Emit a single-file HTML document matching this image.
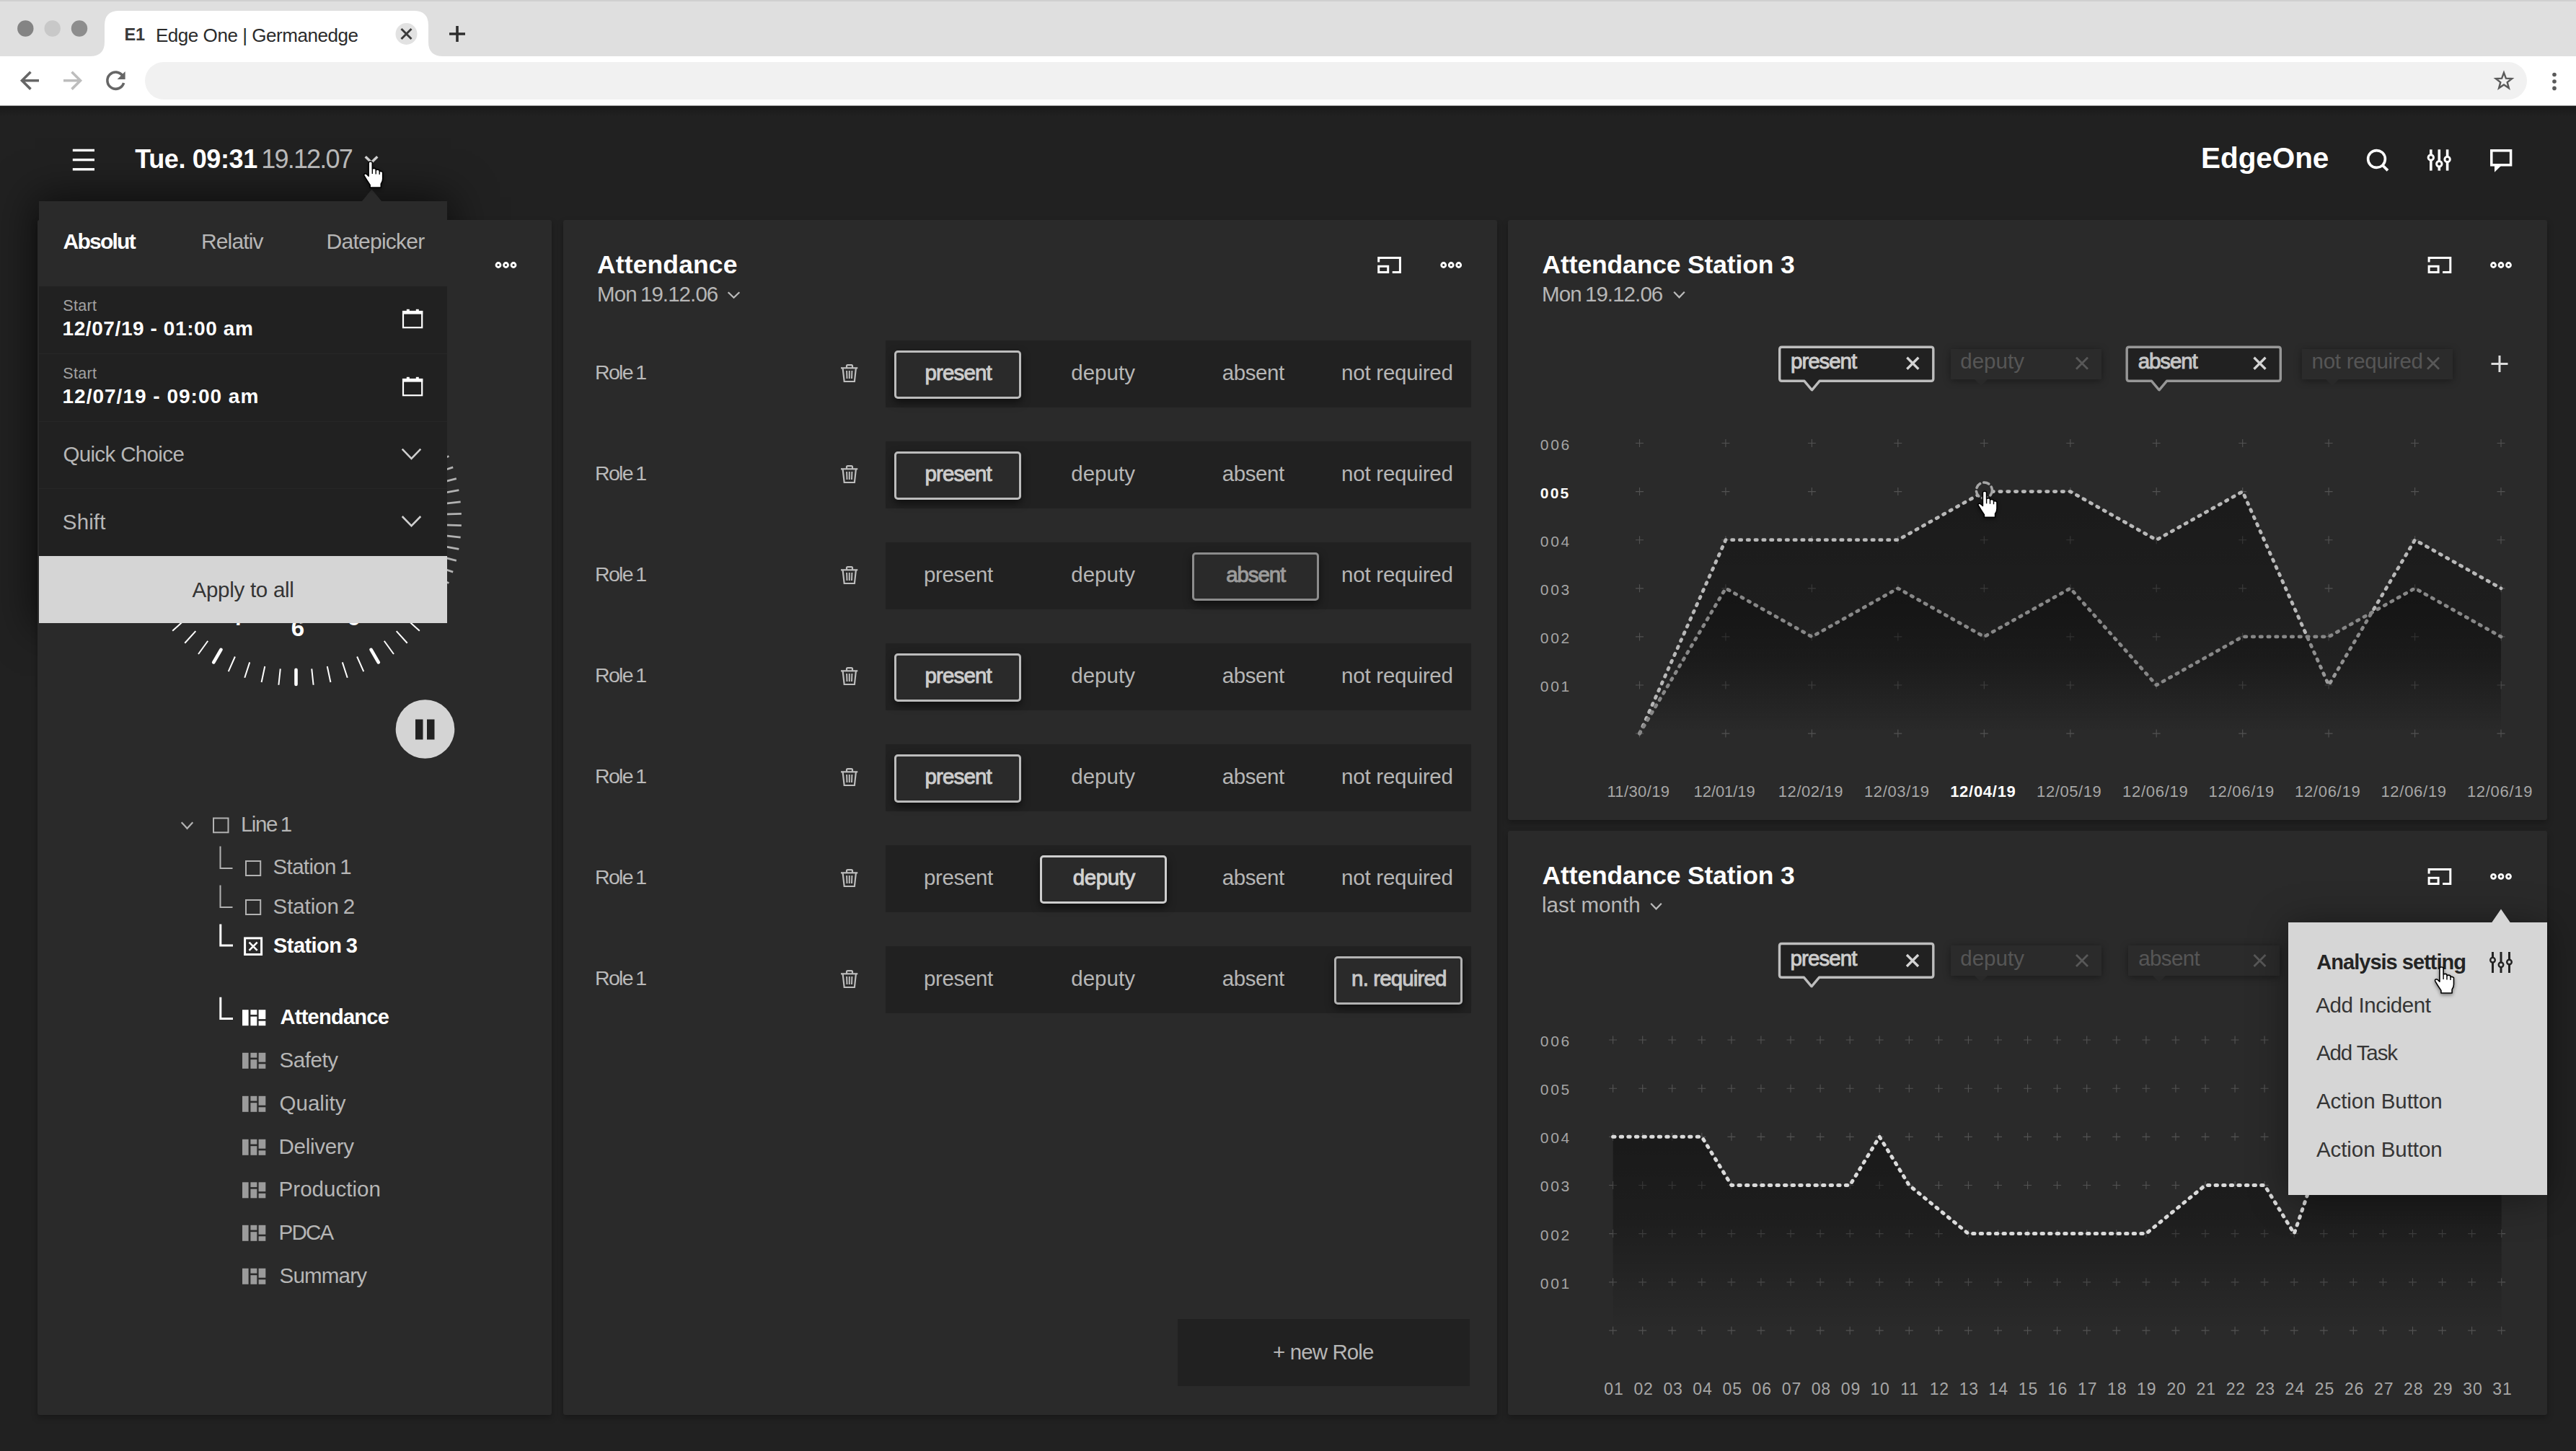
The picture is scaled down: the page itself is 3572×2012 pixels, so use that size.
<!DOCTYPE html>
<html lang="en"><head><meta charset="utf-8"><title>Edge One | Germanedge</title>
<style>
*{box-sizing:border-box}
html,body{margin:0;padding:0}
body{width:3572px;height:2012px;overflow:hidden;position:relative;background:#212121;
 font-family:"Liberation Sans",sans-serif;-webkit-font-smoothing:antialiased}
.abs,.t,svg.layer{position:absolute}
.t{white-space:nowrap;line-height:1;font-weight:400}
.b{font-weight:700}
.sb{-webkit-text-stroke:0.95px currentColor}
svg.layer{left:0;top:0;width:3572px;height:2012px;overflow:visible;pointer-events:none}
.panel{position:absolute;background:#2a2a2a;border-radius:3px;box-shadow:0 4px 9px rgba(0,0,0,.28)}
.bar{position:absolute;left:1228px;width:812px;height:93px;background:#212121}
.sel{position:absolute;height:67px;width:176px;border:3px solid #bcbcbc;border-radius:5px;background:#2a2a2a;
 box-shadow:0 5px 12px rgba(0,0,0,.55)}
.sel.dim{border-color:#8c8c8c}
.sel.hi{border-color:#cecece}
.sel.lo{border-color:#b2b2b2}
.dtag{position:absolute;height:42px;background:#2b2b2b;box-shadow:0 2px 10px rgba(0,0,0,.38)}
</style></head>
<body>
<!-- browser chrome -->
<div class="abs" style="left:0;top:0;width:3572px;height:78px;background:#dfdfdf"></div>
<div class="abs" style="left:0;top:0;width:3572px;height:1.5px;background:#d0d0d0"></div>
<div class="abs" style="left:0;top:146px;width:3572px;height:15px;background:linear-gradient(#191919,#212121)"></div>
<div class="abs" style="left:0;top:78px;width:3572px;height:68.6px;background:#fff;border-bottom:1px solid #9a9a9a"></div>
<div class="abs" style="left:201px;top:85.5px;width:3303px;height:52px;border-radius:26px;background:#f1f1f1"></div>
<svg class="layer" viewBox="0 0 3572 2012"><circle cx="35.3" cy="39.5" r="11.2" fill="#848484"/>
<circle cx="72.7" cy="39.5" r="11.2" fill="#c8c8c8"/>
<circle cx="110" cy="39.5" r="11.2" fill="#8d8d8d"/>
<path d="M125,78 Q145,78 145,58 V35 Q145,15 165,15 H574 Q594,15 594,35 V58 Q594,78 614,78 Z" fill="#fff"/>
<circle cx="563.5" cy="47" r="15" fill="#e2e2e2"/>
<path d="M556.5,40 L570.5,54 M570.5,40 L556.5,54" stroke="#3c3c3c" stroke-width="3" fill="none"/>
<path d="M623,47 H645 M634,36 V58" stroke="#2e2e2e" stroke-width="3.6" fill="none"/>
<path d="M54,111.7 H30.5 M42.5,99.8 L30.5,111.7 L42.5,123.6" stroke="#666" stroke-width="3.6" fill="none" stroke-linejoin="miter"/>
<path d="M88,111.7 H111.5 M99.5,99.8 L111.5,111.7 L99.5,123.6" stroke="#bdbdbd" stroke-width="3.6" fill="none"/>
<path d="M170.3,105.5 A11.6,11.6 0 1 0 171.6,115" stroke="#666" stroke-width="3.6" fill="none"/>
<path d="M173.6,99 V110 H162.6 Z" fill="#666"/>
<polygon points="3472.0,100.8 3474.9,108.6 3483.2,109.0 3476.7,114.1 3478.9,122.1 3472.0,117.5 3465.1,122.1 3467.3,114.1 3460.8,109.0 3469.1,108.6" fill="none" stroke="#5a5a5a" stroke-width="2.4" stroke-linejoin="miter"/>
<circle cx="3542" cy="103.5" r="2.8" fill="#5a5a5a"/>
<circle cx="3542" cy="113" r="2.8" fill="#5a5a5a"/>
<circle cx="3542" cy="122.4" r="2.8" fill="#5a5a5a"/></svg>
<!-- panels -->
<div class="abs" style="left:54px;top:279px;width:565.5px;height:585px;box-shadow:0 0 55px 6px rgba(0,0,0,.62)"></div>
<div class="panel" style="left:52px;top:304.5px;width:712.5px;height:1657px"></div>
<div class="panel" style="left:780.5px;top:304.5px;width:1295px;height:1657px"></div>
<div class="panel" style="left:2090.5px;top:304.5px;width:1441px;height:832px"></div>
<div class="panel" style="left:2090.5px;top:1152px;width:1441px;height:809.8px"></div>
<div class="bar" style="top:472.3px"></div>
<div class="sel" style="left:1240px;top:485.6px;width:176px"></div>
<div class="bar" style="top:612.3px"></div>
<div class="sel" style="left:1240px;top:625.6px;width:176px"></div>
<div class="bar" style="top:752.3px"></div>
<div class="sel dim" style="left:1653px;top:765.6px;width:176px"></div>
<div class="bar" style="top:892.3px"></div>
<div class="sel" style="left:1240px;top:905.6px;width:176px"></div>
<div class="bar" style="top:1032.3px"></div>
<div class="sel" style="left:1240px;top:1045.6px;width:176px"></div>
<div class="bar" style="top:1172.3px"></div>
<div class="sel hi" style="left:1442px;top:1185.6px;width:176px"></div>
<div class="bar" style="top:1312.3px"></div>
<div class="sel lo" style="left:1850px;top:1325.6px;width:178px"></div>
<div class="abs" style="left:1633px;top:1829px;width:405px;height:93px;background:#212121"></div>
<div class="dtag" style="left:2704.8px;top:484.2px;width:208.8px"></div>
<div class="abs" style="left:2738.0px;top:526.2px;width:0;height:0;border-left:9px solid transparent;border-right:9px solid transparent;border-top:9px solid #292929"></div>
<div class="dtag" style="left:3192.0px;top:484.2px;width:208.5px"></div>
<div class="abs" style="left:3225.0px;top:526.2px;width:0;height:0;border-left:9px solid transparent;border-right:9px solid transparent;border-top:9px solid #292929"></div>
<div class="dtag" style="left:2704.8px;top:1311.4px;width:208.8px"></div>
<div class="abs" style="left:2738.0px;top:1353.4px;width:0;height:0;border-left:9px solid transparent;border-right:9px solid transparent;border-top:9px solid #292929"></div>
<div class="dtag" style="left:2951.0px;top:1311.4px;width:209.5px"></div>
<div class="abs" style="left:2985.0px;top:1353.4px;width:0;height:0;border-left:9px solid transparent;border-right:9px solid transparent;border-top:9px solid #292929"></div>
<svg class="layer" viewBox="0 0 3572 2012">
<defs><linearGradient id="ga" x1="0" y1="0" x2="0" y2="1"><stop offset="0" stop-color="#000" stop-opacity="0.37"/><stop offset="0.5" stop-color="#000" stop-opacity="0.29"/><stop offset="1" stop-color="#000" stop-opacity="0"/></linearGradient><linearGradient id="gb" x1="0" y1="0" x2="0" y2="1"><stop offset="0" stop-color="#000" stop-opacity="0.30"/><stop offset="0.5" stop-color="#000" stop-opacity="0.22"/><stop offset="1" stop-color="#000" stop-opacity="0"/></linearGradient><linearGradient id="gc" x1="0" y1="0" x2="0" y2="1"><stop offset="0" stop-color="#000" stop-opacity="0.40"/><stop offset="0.45" stop-color="#000" stop-opacity="0.30"/><stop offset="1" stop-color="#000" stop-opacity="0"/></linearGradient></defs>
<path d="M2268.0,614.5h11.0M2273.5,609.0v11.0M2387.4,614.5h11.0M2392.9,609.0v11.0M2506.9,614.5h11.0M2512.4,609.0v11.0M2626.3,614.5h11.0M2631.8,609.0v11.0M2745.8,614.5h11.0M2751.3,609.0v11.0M2865.2,614.5h11.0M2870.8,609.0v11.0M2984.7,614.5h11.0M2990.2,609.0v11.0M3104.2,614.5h11.0M3109.7,609.0v11.0M3223.6,614.5h11.0M3229.1,609.0v11.0M3343.1,614.5h11.0M3348.6,609.0v11.0M3462.5,614.5h11.0M3468.0,609.0v11.0M2268.0,681.6h11.0M2273.5,676.1v11.0M2387.4,681.6h11.0M2392.9,676.1v11.0M2506.9,681.6h11.0M2512.4,676.1v11.0M2626.3,681.6h11.0M2631.8,676.1v11.0M2745.8,681.6h11.0M2751.3,676.1v11.0M2865.2,681.6h11.0M2870.8,676.1v11.0M2984.7,681.6h11.0M2990.2,676.1v11.0M3104.2,681.6h11.0M3109.7,676.1v11.0M3223.6,681.6h11.0M3229.1,676.1v11.0M3343.1,681.6h11.0M3348.6,676.1v11.0M3462.5,681.6h11.0M3468.0,676.1v11.0M2268.0,748.7h11.0M2273.5,743.2v11.0M2387.4,748.7h11.0M2392.9,743.2v11.0M2506.9,748.7h11.0M2512.4,743.2v11.0M2626.3,748.7h11.0M2631.8,743.2v11.0M2745.8,748.7h11.0M2751.3,743.2v11.0M2865.2,748.7h11.0M2870.8,743.2v11.0M2984.7,748.7h11.0M2990.2,743.2v11.0M3104.2,748.7h11.0M3109.7,743.2v11.0M3223.6,748.7h11.0M3229.1,743.2v11.0M3343.1,748.7h11.0M3348.6,743.2v11.0M3462.5,748.7h11.0M3468.0,743.2v11.0M2268.0,815.8h11.0M2273.5,810.3v11.0M2387.4,815.8h11.0M2392.9,810.3v11.0M2506.9,815.8h11.0M2512.4,810.3v11.0M2626.3,815.8h11.0M2631.8,810.3v11.0M2745.8,815.8h11.0M2751.3,810.3v11.0M2865.2,815.8h11.0M2870.8,810.3v11.0M2984.7,815.8h11.0M2990.2,810.3v11.0M3104.2,815.8h11.0M3109.7,810.3v11.0M3223.6,815.8h11.0M3229.1,810.3v11.0M3343.1,815.8h11.0M3348.6,810.3v11.0M3462.5,815.8h11.0M3468.0,810.3v11.0M2268.0,882.9h11.0M2273.5,877.4v11.0M2387.4,882.9h11.0M2392.9,877.4v11.0M2506.9,882.9h11.0M2512.4,877.4v11.0M2626.3,882.9h11.0M2631.8,877.4v11.0M2745.8,882.9h11.0M2751.3,877.4v11.0M2865.2,882.9h11.0M2870.8,877.4v11.0M2984.7,882.9h11.0M2990.2,877.4v11.0M3104.2,882.9h11.0M3109.7,877.4v11.0M3223.6,882.9h11.0M3229.1,877.4v11.0M3343.1,882.9h11.0M3348.6,877.4v11.0M3462.5,882.9h11.0M3468.0,877.4v11.0M2268.0,950.0h11.0M2273.5,944.5v11.0M2387.4,950.0h11.0M2392.9,944.5v11.0M2506.9,950.0h11.0M2512.4,944.5v11.0M2626.3,950.0h11.0M2631.8,944.5v11.0M2745.8,950.0h11.0M2751.3,944.5v11.0M2865.2,950.0h11.0M2870.8,944.5v11.0M2984.7,950.0h11.0M2990.2,944.5v11.0M3104.2,950.0h11.0M3109.7,944.5v11.0M3223.6,950.0h11.0M3229.1,944.5v11.0M3343.1,950.0h11.0M3348.6,944.5v11.0M3462.5,950.0h11.0M3468.0,944.5v11.0M2268.0,1017.1h11.0M2273.5,1011.6v11.0M2387.4,1017.1h11.0M2392.9,1011.6v11.0M2506.9,1017.1h11.0M2512.4,1011.6v11.0M2626.3,1017.1h11.0M2631.8,1011.6v11.0M2745.8,1017.1h11.0M2751.3,1011.6v11.0M2865.2,1017.1h11.0M2870.8,1011.6v11.0M2984.7,1017.1h11.0M2990.2,1011.6v11.0M3104.2,1017.1h11.0M3109.7,1011.6v11.0M3223.6,1017.1h11.0M3229.1,1011.6v11.0M3343.1,1017.1h11.0M3348.6,1011.6v11.0M3462.5,1017.1h11.0M3468.0,1011.6v11.0" stroke="#fff" stroke-width="1.15" fill="none" opacity="0.19"/>
<polygon points="2273.5,1017.1 2392.9,748.7 2512.4,748.7 2631.8,748.7 2751.3,681.6 2870.8,681.6 2990.2,748.7 3109.7,681.6 3229.1,950.0 3348.6,748.7 3468.0,815.8 3468.0,1017.1 2273.5,1017.1" fill="url(#ga)"/>
<polyline points="2273.5,1017.1 2392.9,748.7 2512.4,748.7 2631.8,748.7 2751.3,681.6 2870.8,681.6 2990.2,748.7 3109.7,681.6 3229.1,950.0 3348.6,748.7 3468.0,815.8" stroke="#b8b8b8" stroke-width="4.8" stroke-linecap="round" stroke-dasharray="2.4 8.4" fill="none" stroke-linejoin="round"/>
<polygon points="2273.5,1017.1 2392.9,815.8 2512.4,882.9 2631.8,815.8 2751.3,882.9 2870.8,815.8 2990.2,950.0 3109.7,882.9 3229.1,882.9 3348.6,815.8 3468.0,882.9 3468.0,1017.1 2273.5,1017.1" fill="url(#gb)"/>
<polyline points="2273.5,1017.1 2392.9,815.8 2512.4,882.9 2631.8,815.8 2751.3,882.9 2870.8,815.8 2990.2,950.0 3109.7,882.9 3229.1,882.9 3348.6,815.8 3468.0,882.9" stroke="#878787" stroke-width="4.8" stroke-linecap="round" stroke-dasharray="2.4 8.4" fill="none" stroke-linejoin="round"/>
<circle cx="2751.4" cy="680.0" r="11" fill="#2a2a2a" stroke="#a6a6a6" stroke-width="3.6" stroke-dasharray="7.5 5.2" stroke-linecap="round"/>
<path d="M2231.1,1442.0h11.0M2236.6,1436.5v11.0M2272.2,1442.0h11.0M2277.7,1436.5v11.0M2313.2,1442.0h11.0M2318.7,1436.5v11.0M2354.3,1442.0h11.0M2359.8,1436.5v11.0M2395.4,1442.0h11.0M2400.9,1436.5v11.0M2436.4,1442.0h11.0M2441.9,1436.5v11.0M2477.5,1442.0h11.0M2483.0,1436.5v11.0M2518.6,1442.0h11.0M2524.1,1436.5v11.0M2559.7,1442.0h11.0M2565.2,1436.5v11.0M2600.7,1442.0h11.0M2606.2,1436.5v11.0M2641.8,1442.0h11.0M2647.3,1436.5v11.0M2682.9,1442.0h11.0M2688.4,1436.5v11.0M2723.9,1442.0h11.0M2729.4,1436.5v11.0M2765.0,1442.0h11.0M2770.5,1436.5v11.0M2806.1,1442.0h11.0M2811.6,1436.5v11.0M2847.1,1442.0h11.0M2852.6,1436.5v11.0M2888.2,1442.0h11.0M2893.7,1436.5v11.0M2929.3,1442.0h11.0M2934.8,1436.5v11.0M2970.4,1442.0h11.0M2975.9,1436.5v11.0M3011.4,1442.0h11.0M3016.9,1436.5v11.0M3052.5,1442.0h11.0M3058.0,1436.5v11.0M3093.6,1442.0h11.0M3099.1,1436.5v11.0M3134.6,1442.0h11.0M3140.1,1436.5v11.0M3175.7,1442.0h11.0M3181.2,1436.5v11.0M3216.8,1442.0h11.0M3222.3,1436.5v11.0M3257.8,1442.0h11.0M3263.3,1436.5v11.0M3298.9,1442.0h11.0M3304.4,1436.5v11.0M3340.0,1442.0h11.0M3345.5,1436.5v11.0M3381.1,1442.0h11.0M3386.6,1436.5v11.0M3422.1,1442.0h11.0M3427.6,1436.5v11.0M3463.2,1442.0h11.0M3468.7,1436.5v11.0M2231.1,1509.2h11.0M2236.6,1503.7v11.0M2272.2,1509.2h11.0M2277.7,1503.7v11.0M2313.2,1509.2h11.0M2318.7,1503.7v11.0M2354.3,1509.2h11.0M2359.8,1503.7v11.0M2395.4,1509.2h11.0M2400.9,1503.7v11.0M2436.4,1509.2h11.0M2441.9,1503.7v11.0M2477.5,1509.2h11.0M2483.0,1503.7v11.0M2518.6,1509.2h11.0M2524.1,1503.7v11.0M2559.7,1509.2h11.0M2565.2,1503.7v11.0M2600.7,1509.2h11.0M2606.2,1503.7v11.0M2641.8,1509.2h11.0M2647.3,1503.7v11.0M2682.9,1509.2h11.0M2688.4,1503.7v11.0M2723.9,1509.2h11.0M2729.4,1503.7v11.0M2765.0,1509.2h11.0M2770.5,1503.7v11.0M2806.1,1509.2h11.0M2811.6,1503.7v11.0M2847.1,1509.2h11.0M2852.6,1503.7v11.0M2888.2,1509.2h11.0M2893.7,1503.7v11.0M2929.3,1509.2h11.0M2934.8,1503.7v11.0M2970.4,1509.2h11.0M2975.9,1503.7v11.0M3011.4,1509.2h11.0M3016.9,1503.7v11.0M3052.5,1509.2h11.0M3058.0,1503.7v11.0M3093.6,1509.2h11.0M3099.1,1503.7v11.0M3134.6,1509.2h11.0M3140.1,1503.7v11.0M3175.7,1509.2h11.0M3181.2,1503.7v11.0M3216.8,1509.2h11.0M3222.3,1503.7v11.0M3257.8,1509.2h11.0M3263.3,1503.7v11.0M3298.9,1509.2h11.0M3304.4,1503.7v11.0M3340.0,1509.2h11.0M3345.5,1503.7v11.0M3381.1,1509.2h11.0M3386.6,1503.7v11.0M3422.1,1509.2h11.0M3427.6,1503.7v11.0M3463.2,1509.2h11.0M3468.7,1503.7v11.0M2231.1,1576.3h11.0M2236.6,1570.8v11.0M2272.2,1576.3h11.0M2277.7,1570.8v11.0M2313.2,1576.3h11.0M2318.7,1570.8v11.0M2354.3,1576.3h11.0M2359.8,1570.8v11.0M2395.4,1576.3h11.0M2400.9,1570.8v11.0M2436.4,1576.3h11.0M2441.9,1570.8v11.0M2477.5,1576.3h11.0M2483.0,1570.8v11.0M2518.6,1576.3h11.0M2524.1,1570.8v11.0M2559.7,1576.3h11.0M2565.2,1570.8v11.0M2600.7,1576.3h11.0M2606.2,1570.8v11.0M2641.8,1576.3h11.0M2647.3,1570.8v11.0M2682.9,1576.3h11.0M2688.4,1570.8v11.0M2723.9,1576.3h11.0M2729.4,1570.8v11.0M2765.0,1576.3h11.0M2770.5,1570.8v11.0M2806.1,1576.3h11.0M2811.6,1570.8v11.0M2847.1,1576.3h11.0M2852.6,1570.8v11.0M2888.2,1576.3h11.0M2893.7,1570.8v11.0M2929.3,1576.3h11.0M2934.8,1570.8v11.0M2970.4,1576.3h11.0M2975.9,1570.8v11.0M3011.4,1576.3h11.0M3016.9,1570.8v11.0M3052.5,1576.3h11.0M3058.0,1570.8v11.0M3093.6,1576.3h11.0M3099.1,1570.8v11.0M3134.6,1576.3h11.0M3140.1,1570.8v11.0M3175.7,1576.3h11.0M3181.2,1570.8v11.0M3216.8,1576.3h11.0M3222.3,1570.8v11.0M3257.8,1576.3h11.0M3263.3,1570.8v11.0M3298.9,1576.3h11.0M3304.4,1570.8v11.0M3340.0,1576.3h11.0M3345.5,1570.8v11.0M3381.1,1576.3h11.0M3386.6,1570.8v11.0M3422.1,1576.3h11.0M3427.6,1570.8v11.0M3463.2,1576.3h11.0M3468.7,1570.8v11.0M2231.1,1643.5h11.0M2236.6,1638.0v11.0M2272.2,1643.5h11.0M2277.7,1638.0v11.0M2313.2,1643.5h11.0M2318.7,1638.0v11.0M2354.3,1643.5h11.0M2359.8,1638.0v11.0M2395.4,1643.5h11.0M2400.9,1638.0v11.0M2436.4,1643.5h11.0M2441.9,1638.0v11.0M2477.5,1643.5h11.0M2483.0,1638.0v11.0M2518.6,1643.5h11.0M2524.1,1638.0v11.0M2559.7,1643.5h11.0M2565.2,1638.0v11.0M2600.7,1643.5h11.0M2606.2,1638.0v11.0M2641.8,1643.5h11.0M2647.3,1638.0v11.0M2682.9,1643.5h11.0M2688.4,1638.0v11.0M2723.9,1643.5h11.0M2729.4,1638.0v11.0M2765.0,1643.5h11.0M2770.5,1638.0v11.0M2806.1,1643.5h11.0M2811.6,1638.0v11.0M2847.1,1643.5h11.0M2852.6,1638.0v11.0M2888.2,1643.5h11.0M2893.7,1638.0v11.0M2929.3,1643.5h11.0M2934.8,1638.0v11.0M2970.4,1643.5h11.0M2975.9,1638.0v11.0M3011.4,1643.5h11.0M3016.9,1638.0v11.0M3052.5,1643.5h11.0M3058.0,1638.0v11.0M3093.6,1643.5h11.0M3099.1,1638.0v11.0M3134.6,1643.5h11.0M3140.1,1638.0v11.0M3175.7,1643.5h11.0M3181.2,1638.0v11.0M3216.8,1643.5h11.0M3222.3,1638.0v11.0M3257.8,1643.5h11.0M3263.3,1638.0v11.0M3298.9,1643.5h11.0M3304.4,1638.0v11.0M3340.0,1643.5h11.0M3345.5,1638.0v11.0M3381.1,1643.5h11.0M3386.6,1638.0v11.0M3422.1,1643.5h11.0M3427.6,1638.0v11.0M3463.2,1643.5h11.0M3468.7,1638.0v11.0M2231.1,1710.6h11.0M2236.6,1705.1v11.0M2272.2,1710.6h11.0M2277.7,1705.1v11.0M2313.2,1710.6h11.0M2318.7,1705.1v11.0M2354.3,1710.6h11.0M2359.8,1705.1v11.0M2395.4,1710.6h11.0M2400.9,1705.1v11.0M2436.4,1710.6h11.0M2441.9,1705.1v11.0M2477.5,1710.6h11.0M2483.0,1705.1v11.0M2518.6,1710.6h11.0M2524.1,1705.1v11.0M2559.7,1710.6h11.0M2565.2,1705.1v11.0M2600.7,1710.6h11.0M2606.2,1705.1v11.0M2641.8,1710.6h11.0M2647.3,1705.1v11.0M2682.9,1710.6h11.0M2688.4,1705.1v11.0M2723.9,1710.6h11.0M2729.4,1705.1v11.0M2765.0,1710.6h11.0M2770.5,1705.1v11.0M2806.1,1710.6h11.0M2811.6,1705.1v11.0M2847.1,1710.6h11.0M2852.6,1705.1v11.0M2888.2,1710.6h11.0M2893.7,1705.1v11.0M2929.3,1710.6h11.0M2934.8,1705.1v11.0M2970.4,1710.6h11.0M2975.9,1705.1v11.0M3011.4,1710.6h11.0M3016.9,1705.1v11.0M3052.5,1710.6h11.0M3058.0,1705.1v11.0M3093.6,1710.6h11.0M3099.1,1705.1v11.0M3134.6,1710.6h11.0M3140.1,1705.1v11.0M3175.7,1710.6h11.0M3181.2,1705.1v11.0M3216.8,1710.6h11.0M3222.3,1705.1v11.0M3257.8,1710.6h11.0M3263.3,1705.1v11.0M3298.9,1710.6h11.0M3304.4,1705.1v11.0M3340.0,1710.6h11.0M3345.5,1705.1v11.0M3381.1,1710.6h11.0M3386.6,1705.1v11.0M3422.1,1710.6h11.0M3427.6,1705.1v11.0M3463.2,1710.6h11.0M3468.7,1705.1v11.0M2231.1,1777.8h11.0M2236.6,1772.2v11.0M2272.2,1777.8h11.0M2277.7,1772.2v11.0M2313.2,1777.8h11.0M2318.7,1772.2v11.0M2354.3,1777.8h11.0M2359.8,1772.2v11.0M2395.4,1777.8h11.0M2400.9,1772.2v11.0M2436.4,1777.8h11.0M2441.9,1772.2v11.0M2477.5,1777.8h11.0M2483.0,1772.2v11.0M2518.6,1777.8h11.0M2524.1,1772.2v11.0M2559.7,1777.8h11.0M2565.2,1772.2v11.0M2600.7,1777.8h11.0M2606.2,1772.2v11.0M2641.8,1777.8h11.0M2647.3,1772.2v11.0M2682.9,1777.8h11.0M2688.4,1772.2v11.0M2723.9,1777.8h11.0M2729.4,1772.2v11.0M2765.0,1777.8h11.0M2770.5,1772.2v11.0M2806.1,1777.8h11.0M2811.6,1772.2v11.0M2847.1,1777.8h11.0M2852.6,1772.2v11.0M2888.2,1777.8h11.0M2893.7,1772.2v11.0M2929.3,1777.8h11.0M2934.8,1772.2v11.0M2970.4,1777.8h11.0M2975.9,1772.2v11.0M3011.4,1777.8h11.0M3016.9,1772.2v11.0M3052.5,1777.8h11.0M3058.0,1772.2v11.0M3093.6,1777.8h11.0M3099.1,1772.2v11.0M3134.6,1777.8h11.0M3140.1,1772.2v11.0M3175.7,1777.8h11.0M3181.2,1772.2v11.0M3216.8,1777.8h11.0M3222.3,1772.2v11.0M3257.8,1777.8h11.0M3263.3,1772.2v11.0M3298.9,1777.8h11.0M3304.4,1772.2v11.0M3340.0,1777.8h11.0M3345.5,1772.2v11.0M3381.1,1777.8h11.0M3386.6,1772.2v11.0M3422.1,1777.8h11.0M3427.6,1772.2v11.0M3463.2,1777.8h11.0M3468.7,1772.2v11.0M2231.1,1844.9h11.0M2236.6,1839.4v11.0M2272.2,1844.9h11.0M2277.7,1839.4v11.0M2313.2,1844.9h11.0M2318.7,1839.4v11.0M2354.3,1844.9h11.0M2359.8,1839.4v11.0M2395.4,1844.9h11.0M2400.9,1839.4v11.0M2436.4,1844.9h11.0M2441.9,1839.4v11.0M2477.5,1844.9h11.0M2483.0,1839.4v11.0M2518.6,1844.9h11.0M2524.1,1839.4v11.0M2559.7,1844.9h11.0M2565.2,1839.4v11.0M2600.7,1844.9h11.0M2606.2,1839.4v11.0M2641.8,1844.9h11.0M2647.3,1839.4v11.0M2682.9,1844.9h11.0M2688.4,1839.4v11.0M2723.9,1844.9h11.0M2729.4,1839.4v11.0M2765.0,1844.9h11.0M2770.5,1839.4v11.0M2806.1,1844.9h11.0M2811.6,1839.4v11.0M2847.1,1844.9h11.0M2852.6,1839.4v11.0M2888.2,1844.9h11.0M2893.7,1839.4v11.0M2929.3,1844.9h11.0M2934.8,1839.4v11.0M2970.4,1844.9h11.0M2975.9,1839.4v11.0M3011.4,1844.9h11.0M3016.9,1839.4v11.0M3052.5,1844.9h11.0M3058.0,1839.4v11.0M3093.6,1844.9h11.0M3099.1,1839.4v11.0M3134.6,1844.9h11.0M3140.1,1839.4v11.0M3175.7,1844.9h11.0M3181.2,1839.4v11.0M3216.8,1844.9h11.0M3222.3,1839.4v11.0M3257.8,1844.9h11.0M3263.3,1839.4v11.0M3298.9,1844.9h11.0M3304.4,1839.4v11.0M3340.0,1844.9h11.0M3345.5,1839.4v11.0M3381.1,1844.9h11.0M3386.6,1839.4v11.0M3422.1,1844.9h11.0M3427.6,1839.4v11.0M3463.2,1844.9h11.0M3468.7,1839.4v11.0" stroke="#fff" stroke-width="1.15" fill="none" opacity="0.19"/>
<polygon points="2236.6,1576.3 2359.8,1576.3 2400.9,1643.5 2565.2,1643.5 2606.2,1576.3 2647.3,1643.5 2729.4,1710.6 2975.9,1710.6 3058.0,1643.5 3140.1,1643.5 3181.2,1710.6 3222.3,1589.7 3263.3,1562.9 3345.5,1576.3 3386.6,1643.5 3468.7,1643.5 3468.7,1844.9 2236.6,1844.9" fill="url(#gc)"/>
<polyline points="2236.6,1576.3 2359.8,1576.3 2400.9,1643.5 2565.2,1643.5 2606.2,1576.3 2647.3,1643.5 2729.4,1710.6 2975.9,1710.6 3058.0,1643.5 3140.1,1643.5 3181.2,1710.6 3222.3,1589.7 3263.3,1562.9 3345.5,1576.3 3386.6,1643.5 3468.7,1643.5" stroke="#dadada" stroke-width="5" stroke-linecap="round" stroke-dasharray="2.4 8.2" fill="none" stroke-linejoin="round"/>
<rect x="100.8" y="206.7" width="30.2" height="3.4" fill="#fff"/>
<rect x="100.8" y="219.9" width="30.2" height="3.4" fill="#fff"/>
<rect x="100.8" y="233.1" width="30.2" height="3.4" fill="#fff"/>
<path d="M506.7,217.2 L515.0,225.3 L523.3,217.2" fill="none" stroke="#d0d0d0" stroke-width="3.4"/>
<circle cx="3295.5" cy="220.5" r="11.9" fill="none" stroke="#fff" stroke-width="3.6"/>
<path d="M3303.6,229 L3311,236.4" stroke="#fff" stroke-width="3.8"/>
<path d="M3370.8,207.3 V236.6" stroke="#fff" stroke-width="3.6"/><path d="M3382.3,207.3 V236.6" stroke="#fff" stroke-width="3.6"/><path d="M3393.6,207.3 V236.6" stroke="#fff" stroke-width="3.6"/><circle cx="3370.8" cy="218.4" r="3.7" fill="#212121" stroke="#fff" stroke-width="3"/><circle cx="3382.3" cy="227.2" r="3.7" fill="#212121" stroke="#fff" stroke-width="3"/><circle cx="3393.6" cy="220.9" r="3.7" fill="#212121" stroke="#fff" stroke-width="3"/>
<rect x="3454.8" y="208.8" width="26.8" height="20" fill="none" stroke="#fff" stroke-width="3.5"/>
<path d="M3459,229 V238.8 L3469,229 Z" fill="#fff"/>
<circle cx="691.0" cy="367.5" r="3" fill="none" stroke="#fff" stroke-width="2.8"/><circle cx="701.5" cy="367.5" r="3" fill="none" stroke="#fff" stroke-width="2.8"/><circle cx="712.0" cy="367.5" r="3" fill="none" stroke="#fff" stroke-width="2.8"/>
<path d="M1911.7,363.5 V357.5 H1941.4 V377.5 H1930.7" fill="none" stroke="#fff" stroke-width="3"/><rect x="1911.7" y="369.3" width="13" height="8.2" fill="none" stroke="#fff" stroke-width="3"/>
<circle cx="2001.7" cy="367.5" r="3" fill="none" stroke="#fff" stroke-width="2.8"/><circle cx="2012.2" cy="367.5" r="3" fill="none" stroke="#fff" stroke-width="2.8"/><circle cx="2022.7" cy="367.5" r="3" fill="none" stroke="#fff" stroke-width="2.8"/>
<path d="M3368.1,363.5 V357.5 H3397.8 V377.5 H3387.1" fill="none" stroke="#fff" stroke-width="3"/><rect x="3368.1" y="369.3" width="13" height="8.2" fill="none" stroke="#fff" stroke-width="3"/>
<circle cx="3457.5" cy="367.5" r="3" fill="none" stroke="#fff" stroke-width="2.8"/><circle cx="3468.0" cy="367.5" r="3" fill="none" stroke="#fff" stroke-width="2.8"/><circle cx="3478.5" cy="367.5" r="3" fill="none" stroke="#fff" stroke-width="2.8"/>
<path d="M3368.1,1211.5 V1205.5 H3397.8 V1225.5 H3387.1" fill="none" stroke="#fff" stroke-width="3"/><rect x="3368.1" y="1217.3" width="13" height="8.2" fill="none" stroke="#fff" stroke-width="3"/>
<circle cx="3457.5" cy="1215.3" r="3" fill="none" stroke="#fff" stroke-width="2.8"/><circle cx="3468.0" cy="1215.3" r="3" fill="none" stroke="#fff" stroke-width="2.8"/><circle cx="3478.5" cy="1215.3" r="3" fill="none" stroke="#fff" stroke-width="2.8"/>
<path d="M1009.7,405.2 L1017.5,412.8 L1025.3,405.2" fill="none" stroke="#bbb" stroke-width="2.2"/>
<path d="M2321.2,404.7 L2328.5,412.3 L2335.8,404.7" fill="none" stroke="#bbb" stroke-width="2.2"/>
<path d="M2289.2,1252.7 L2296.5,1260.3 L2303.8,1252.7" fill="none" stroke="#bbb" stroke-width="2.2"/>
<path d="M432.24,513.64 L434.59,491.26 M453.75,517.05 L458.42,495.04 M474.78,522.68 L481.73,501.28 M495.10,530.48 L504.25,509.93 M532.76,552.22 L545.98,534.02 M549.68,565.93 L564.73,549.21 M565.07,581.32 L581.79,566.27 M578.78,598.24 L596.98,585.02 M578.78,842.76 L596.98,855.98 M565.07,859.68 L581.79,874.73 M549.68,875.07 L564.73,891.79 M532.76,888.78 L545.98,906.98 M495.10,910.52 L504.25,931.07 M474.78,918.32 L481.73,939.72 M453.75,923.95 L458.42,945.96 M432.24,927.36 L434.59,949.74 M388.76,927.36 L386.41,949.74 M367.25,923.95 L362.58,945.96 M346.22,918.32 L339.27,939.72 M325.90,910.52 L316.75,931.07 M288.24,888.78 L275.02,906.98 M271.32,875.07 L256.27,891.79 M255.93,859.68 L239.21,874.73 M242.22,842.76 L224.02,855.98 M220.48,805.10 L199.93,814.25 M212.68,784.78 L191.28,791.73 M207.05,763.75 L185.04,768.42 M203.64,742.24 L181.26,744.59 M203.64,698.76 L181.26,696.41 M207.05,677.25 L185.04,672.58 M212.68,656.22 L191.28,649.27 M220.48,635.90 L199.93,626.75 M242.22,598.24 L224.02,585.02 M255.93,581.32 L239.21,566.27 M271.32,565.93 L256.27,549.21 M288.24,552.22 L275.02,534.02 M325.90,530.48 L316.75,509.93 M346.22,522.68 L339.27,501.28 M367.25,517.05 L362.58,495.04 M388.76,513.64 L386.41,491.26" stroke="#fff" stroke-width="2" fill="none"/>
<path d="M410.50,512.30 L410.50,492.00 M514.60,540.19 L524.75,522.61 M590.81,616.40 L608.39,606.25 M590.81,824.60 L608.39,834.75 M514.60,900.81 L524.75,918.39 M410.50,928.70 L410.50,949.00 M306.40,900.81 L296.25,918.39 M230.19,824.60 L212.61,834.75 M202.30,720.50 L182.00,720.50 M230.19,616.40 L212.61,606.25 M306.40,540.19 L296.25,522.61" stroke="#fff" stroke-width="4.6" fill="none" stroke-linecap="round"/>
<path d="M614.87,713.18 L639.85,712.29 M614.87,727.82 L639.85,728.71 M613.82,698.59 L638.68,695.91 M613.82,742.41 L638.68,745.09 M611.74,684.11 L636.34,679.66 M611.74,756.89 L636.34,761.34 M608.62,669.82 L632.84,663.62 M608.62,771.18 L632.84,777.38 M604.49,655.78 L628.20,647.87 M604.49,785.22 L628.20,793.13 M599.36,642.08 L622.45,632.49 M599.36,798.92 L622.45,808.51" stroke="#b2b2b2" stroke-width="2.7" fill="none"/>
<path d="M410.5,720.5 L333.4,699.1" stroke="#fff" stroke-width="6"/>
<path d="M410.5,720.5 L398.0,839.8" stroke="#fff" stroke-width="4"/>
<circle cx="589.5" cy="1011" r="40.8" fill="#d4d4d4"/>
<rect x="576" y="997.5" width="10.5" height="28" fill="#222"/><rect x="592" y="997.5" width="10.5" height="28" fill="#222"/>
<path d="M251.7,1140.2 L259.5,1148.8 L267.3,1140.2" fill="none" stroke="#b2b2b2" stroke-width="2.2"/>
<rect x="296" y="1134.5" width="20.5" height="19.8" fill="none" stroke="#b2b2b2" stroke-width="2"/>
<path d="M305.5,1173.5 V1204.0 H322.5" fill="none" stroke="#b2b2b2" stroke-width="2"/>
<path d="M305.5,1227.5 V1258.0 H322.5" fill="none" stroke="#b2b2b2" stroke-width="2"/>
<rect x="341" y="1194.0" width="20.2" height="20" fill="none" stroke="#b2b2b2" stroke-width="2"/>
<rect x="341" y="1248.0" width="20.2" height="20" fill="none" stroke="#b2b2b2" stroke-width="2"/>
<path d="M305.8,1281.5 V1311.1 H323" fill="none" stroke="#fff" stroke-width="3"/>
<rect x="339.6" y="1300.9" width="23" height="22.6" fill="none" stroke="#fff" stroke-width="3"/>
<path d="M345.5,1306.6 L356.7,1317.8 M356.7,1306.6 L345.5,1317.8" stroke="#fff" stroke-width="2.6" fill="none"/>
<path d="M305.8,1382.8 V1412.5 H323" fill="none" stroke="#fff" stroke-width="3"/>
<rect x="336.0" y="1400.2" width="8.6" height="22" fill="#fff"/><rect x="347.4" y="1400.2" width="8.9" height="6.8" fill="#fff"/><rect x="347.4" y="1409.6" width="8.9" height="12.6" fill="#fff"/><rect x="358.6" y="1400.2" width="9.7" height="12.9" fill="#fff"/><rect x="358.6" y="1415.7" width="9.7" height="6.5" fill="#fff"/>
<rect x="336.0" y="1459.8" width="8.6" height="22" fill="#9b9b9b"/><rect x="347.4" y="1459.8" width="8.9" height="6.8" fill="#9b9b9b"/><rect x="347.4" y="1469.2" width="8.9" height="12.6" fill="#9b9b9b"/><rect x="358.6" y="1459.8" width="9.7" height="12.9" fill="#9b9b9b"/><rect x="358.6" y="1475.3" width="9.7" height="6.5" fill="#9b9b9b"/>
<rect x="336.0" y="1519.8" width="8.6" height="22" fill="#9b9b9b"/><rect x="347.4" y="1519.8" width="8.9" height="6.8" fill="#9b9b9b"/><rect x="347.4" y="1529.2" width="8.9" height="12.6" fill="#9b9b9b"/><rect x="358.6" y="1519.8" width="9.7" height="12.9" fill="#9b9b9b"/><rect x="358.6" y="1535.3" width="9.7" height="6.5" fill="#9b9b9b"/>
<rect x="336.0" y="1579.8" width="8.6" height="22" fill="#9b9b9b"/><rect x="347.4" y="1579.8" width="8.9" height="6.8" fill="#9b9b9b"/><rect x="347.4" y="1589.2" width="8.9" height="12.6" fill="#9b9b9b"/><rect x="358.6" y="1579.8" width="9.7" height="12.9" fill="#9b9b9b"/><rect x="358.6" y="1595.3" width="9.7" height="6.5" fill="#9b9b9b"/>
<rect x="336.0" y="1639.3" width="8.6" height="22" fill="#9b9b9b"/><rect x="347.4" y="1639.3" width="8.9" height="6.8" fill="#9b9b9b"/><rect x="347.4" y="1648.7" width="8.9" height="12.6" fill="#9b9b9b"/><rect x="358.6" y="1639.3" width="9.7" height="12.9" fill="#9b9b9b"/><rect x="358.6" y="1654.8" width="9.7" height="6.5" fill="#9b9b9b"/>
<rect x="336.0" y="1698.8" width="8.6" height="22" fill="#9b9b9b"/><rect x="347.4" y="1698.8" width="8.9" height="6.8" fill="#9b9b9b"/><rect x="347.4" y="1708.2" width="8.9" height="12.6" fill="#9b9b9b"/><rect x="358.6" y="1698.8" width="9.7" height="12.9" fill="#9b9b9b"/><rect x="358.6" y="1714.3" width="9.7" height="6.5" fill="#9b9b9b"/>
<rect x="336.0" y="1758.8" width="8.6" height="22" fill="#9b9b9b"/><rect x="347.4" y="1758.8" width="8.9" height="6.8" fill="#9b9b9b"/><rect x="347.4" y="1768.2" width="8.9" height="12.6" fill="#9b9b9b"/><rect x="358.6" y="1758.8" width="9.7" height="12.9" fill="#9b9b9b"/><rect x="358.6" y="1774.3" width="9.7" height="6.5" fill="#9b9b9b"/>
<g transform="translate(0,0)" fill="none" stroke="#bdbdbd" stroke-width="2.2"><path d="M1166,510.3 H1189.3"/><path d="M1174,510 V507.6 Q1174,506.2 1175.4,506.2 H1180.6 Q1182,506.2 1182,507.6 V510"/><path d="M1168.6,510.3 L1170.7,529 H1184.9 L1186.9,510.3"/><path d="M1174.1,514 L1174.5,525 M1177.8,514 V525 M1181.4,514 L1181,525" stroke-width="2"/></g><g transform="translate(0,140)" fill="none" stroke="#bdbdbd" stroke-width="2.2"><path d="M1166,510.3 H1189.3"/><path d="M1174,510 V507.6 Q1174,506.2 1175.4,506.2 H1180.6 Q1182,506.2 1182,507.6 V510"/><path d="M1168.6,510.3 L1170.7,529 H1184.9 L1186.9,510.3"/><path d="M1174.1,514 L1174.5,525 M1177.8,514 V525 M1181.4,514 L1181,525" stroke-width="2"/></g><g transform="translate(0,280)" fill="none" stroke="#bdbdbd" stroke-width="2.2"><path d="M1166,510.3 H1189.3"/><path d="M1174,510 V507.6 Q1174,506.2 1175.4,506.2 H1180.6 Q1182,506.2 1182,507.6 V510"/><path d="M1168.6,510.3 L1170.7,529 H1184.9 L1186.9,510.3"/><path d="M1174.1,514 L1174.5,525 M1177.8,514 V525 M1181.4,514 L1181,525" stroke-width="2"/></g><g transform="translate(0,420)" fill="none" stroke="#bdbdbd" stroke-width="2.2"><path d="M1166,510.3 H1189.3"/><path d="M1174,510 V507.6 Q1174,506.2 1175.4,506.2 H1180.6 Q1182,506.2 1182,507.6 V510"/><path d="M1168.6,510.3 L1170.7,529 H1184.9 L1186.9,510.3"/><path d="M1174.1,514 L1174.5,525 M1177.8,514 V525 M1181.4,514 L1181,525" stroke-width="2"/></g><g transform="translate(0,560)" fill="none" stroke="#bdbdbd" stroke-width="2.2"><path d="M1166,510.3 H1189.3"/><path d="M1174,510 V507.6 Q1174,506.2 1175.4,506.2 H1180.6 Q1182,506.2 1182,507.6 V510"/><path d="M1168.6,510.3 L1170.7,529 H1184.9 L1186.9,510.3"/><path d="M1174.1,514 L1174.5,525 M1177.8,514 V525 M1181.4,514 L1181,525" stroke-width="2"/></g><g transform="translate(0,700)" fill="none" stroke="#bdbdbd" stroke-width="2.2"><path d="M1166,510.3 H1189.3"/><path d="M1174,510 V507.6 Q1174,506.2 1175.4,506.2 H1180.6 Q1182,506.2 1182,507.6 V510"/><path d="M1168.6,510.3 L1170.7,529 H1184.9 L1186.9,510.3"/><path d="M1174.1,514 L1174.5,525 M1177.8,514 V525 M1181.4,514 L1181,525" stroke-width="2"/></g><g transform="translate(0,840)" fill="none" stroke="#bdbdbd" stroke-width="2.2"><path d="M1166,510.3 H1189.3"/><path d="M1174,510 V507.6 Q1174,506.2 1175.4,506.2 H1180.6 Q1182,506.2 1182,507.6 V510"/><path d="M1168.6,510.3 L1170.7,529 H1184.9 L1186.9,510.3"/><path d="M1174.1,514 L1174.5,525 M1177.8,514 V525 M1181.4,514 L1181,525" stroke-width="2"/></g>
<path d="M2470.7,481.2 H2677.8 Q2680.8,481.2 2680.8,484.2 V525.3 Q2680.8,528.3 2677.8,528.3 H2523.0 L2512.5,540.8 L2502.0,528.3 H2470.7 Q2467.7,528.3 2467.7,525.3 V484.2 Q2467.7,481.2 2470.7,481.2 Z" fill="#212121" stroke="#bdbdbd" stroke-width="3.4" stroke-linejoin="round"/>
<path d="M2952.2,481.2 H3159.3 Q3162.3,481.2 3162.3,484.2 V525.3 Q3162.3,528.3 3159.3,528.3 H3004.5 L2994.0,540.8 L2983.5,528.3 H2952.2 Q2949.2,528.3 2949.2,525.3 V484.2 Q2949.2,481.2 2952.2,481.2 Z" fill="#212121" stroke="#979797" stroke-width="3.4" stroke-linejoin="round"/>
<path d="M2644.3,495.8 L2660.3,511.8 M2660.3,495.8 L2644.3,511.8" stroke="#d4d4d4" stroke-width="3.4" fill="none"/>
<path d="M3125.5,495.8 L3141.5,511.8 M3141.5,495.8 L3125.5,511.8" stroke="#d4d4d4" stroke-width="3.4" fill="none"/>
<path d="M2879.0,495.8 L2895.0,511.8 M2895.0,495.8 L2879.0,511.8" stroke="#585858" stroke-width="2.8" fill="none"/>
<path d="M3366.0,495.8 L3382.0,511.8 M3382.0,495.8 L3366.0,511.8" stroke="#585858" stroke-width="2.8" fill="none"/>
<path d="M3454.5,504.5 H3477.5 M3466,493 V516" stroke="#dcdcdc" stroke-width="3" fill="none"/>
<path d="M2470.5,1308.5 H2677.8 Q2680.8,1308.5 2680.8,1311.5 V1352.3 Q2680.8,1355.3 2677.8,1355.3 H2522.5 L2512.0,1367.8 L2501.5,1355.3 H2470.5 Q2467.5,1355.3 2467.5,1352.3 V1311.5 Q2467.5,1308.5 2470.5,1308.5 Z" fill="#212121" stroke="#bdbdbd" stroke-width="3.4" stroke-linejoin="round"/>
<path d="M2644.0,1324.0 L2660.0,1340.0 M2660.0,1324.0 L2644.0,1340.0" stroke="#d4d4d4" stroke-width="3.4" fill="none"/>
<path d="M2879.0,1324.0 L2895.0,1340.0 M2895.0,1324.0 L2879.0,1340.0" stroke="#585858" stroke-width="2.8" fill="none"/>
<path d="M3125.5,1324.0 L3141.5,1340.0 M3141.5,1324.0 L3125.5,1340.0" stroke="#585858" stroke-width="2.8" fill="none"/>
</svg>
<!-- text layer 0 -->
<span class="t b" style="left:172.50px;top:37.30px;font-size:23.5px;color:#3a3a3a;letter-spacing:-0.131px">E1</span>
<span class="t" style="left:215.88px;top:35.80px;font-size:26px;color:#2b2b2b;letter-spacing:-0.444px">Edge One | Germanedge</span>
<span class="t b" style="left:187.22px;top:203.20px;font-size:36px;color:#fff;letter-spacing:-0.379px">Tue. 09:31</span>
<span class="t" style="left:362.25px;top:203.20px;font-size:36px;color:#b8b8b8;letter-spacing:-1.805px">19.12.07</span>
<span class="t b" style="left:3052.07px;top:198.80px;font-size:40.5px;color:#fff;letter-spacing:-0.076px">EdgeOne</span>
<span class="t b" style="left:482.87px;top:842.80px;font-size:29px;color:#fff">5</span>
<span class="t b" style="left:403.81px;top:853.80px;font-size:33px;color:#fff">6</span>
<span class="t b" style="left:323.93px;top:842.80px;font-size:29px;color:#fff">7</span>
<span class="t" style="left:333.88px;top:1127.80px;font-size:29.5px;color:#b6b6b6;letter-spacing:-1.428px;word-spacing:-2px">Line 1</span>
<span class="t" style="left:378.62px;top:1187.30px;font-size:29.5px;color:#b6b6b6;letter-spacing:-0.673px;word-spacing:-2px">Station 1</span>
<span class="t" style="left:378.62px;top:1241.55px;font-size:29.5px;color:#b6b6b6;letter-spacing:-0.111px;word-spacing:-2px">Station 2</span>
<span class="t b" style="left:379.12px;top:1296.55px;font-size:29px;color:#fff;letter-spacing:-0.579px;word-spacing:-1px">Station 3</span>
<span class="t b" style="left:388.50px;top:1395.80px;font-size:29px;color:#fff;letter-spacing:-0.736px">Attendance</span>
<span class="t" style="left:387.62px;top:1454.80px;font-size:29.5px;color:#b6b6b6;letter-spacing:-0.452px">Safety</span>
<span class="t" style="left:387.62px;top:1514.80px;font-size:29.5px;color:#b6b6b6">Quality</span>
<span class="t" style="left:386.62px;top:1574.80px;font-size:29.5px;color:#b6b6b6;letter-spacing:-0.305px">Delivery</span>
<span class="t" style="left:386.62px;top:1634.30px;font-size:29.5px;color:#b6b6b6;letter-spacing:0.026px">Production</span>
<span class="t" style="left:386.62px;top:1693.80px;font-size:29.5px;color:#b6b6b6;letter-spacing:-1.836px">PDCA</span>
<span class="t" style="left:387.62px;top:1753.80px;font-size:29.5px;color:#b6b6b6;letter-spacing:-0.814px">Summary</span>
<span class="t b" style="left:828.12px;top:349.55px;font-size:35.5px;color:#fff;letter-spacing:0.111px">Attendance</span>
<span class="t" style="left:828.02px;top:392.70px;font-size:29.5px;color:#b6b6b6;letter-spacing:-0.924px;word-spacing:-2px">Mon 19.12.06</span>
<span class="t" style="left:824.95px;top:501.70px;font-size:28.5px;color:#bababa;letter-spacing:-1.632px;word-spacing:-2px">Role 1</span>
<span class="t sb" style="left:1282.62px;top:502.30px;font-size:29.5px;color:#cdcdcd;letter-spacing:-0.898px">present</span>
<span class="t" style="left:1485.25px;top:502.30px;font-size:29.5px;color:#b6b6b6;letter-spacing:0.023px">deputy</span>
<span class="t" style="left:1694.75px;top:502.30px;font-size:29.5px;color:#b6b6b6;letter-spacing:-0.427px">absent</span>
<span class="t" style="left:1860.12px;top:502.30px;font-size:29.5px;color:#b6b6b6;letter-spacing:-0.240px">not required</span>
<span class="t" style="left:824.95px;top:641.70px;font-size:28.5px;color:#bababa;letter-spacing:-1.632px;word-spacing:-2px">Role 1</span>
<span class="t sb" style="left:1282.62px;top:642.30px;font-size:29.5px;color:#cdcdcd;letter-spacing:-0.898px">present</span>
<span class="t" style="left:1485.25px;top:642.30px;font-size:29.5px;color:#b6b6b6;letter-spacing:0.023px">deputy</span>
<span class="t" style="left:1694.75px;top:642.30px;font-size:29.5px;color:#b6b6b6;letter-spacing:-0.427px">absent</span>
<span class="t" style="left:1860.12px;top:642.30px;font-size:29.5px;color:#b6b6b6;letter-spacing:-0.240px">not required</span>
<span class="t" style="left:824.95px;top:781.70px;font-size:28.5px;color:#bababa;letter-spacing:-1.632px;word-spacing:-2px">Role 1</span>
<span class="t" style="left:1281.12px;top:782.30px;font-size:29.5px;color:#b6b6b6;letter-spacing:-0.398px">present</span>
<span class="t" style="left:1485.25px;top:782.30px;font-size:29.5px;color:#b6b6b6;letter-spacing:0.023px">deputy</span>
<span class="t sb" style="left:1700.25px;top:782.30px;font-size:29.5px;color:#9c9c9c;letter-spacing:-1.127px">absent</span>
<span class="t" style="left:1860.12px;top:782.30px;font-size:29.5px;color:#b6b6b6;letter-spacing:-0.240px">not required</span>
<span class="t" style="left:824.95px;top:921.70px;font-size:28.5px;color:#bababa;letter-spacing:-1.632px;word-spacing:-2px">Role 1</span>
<span class="t sb" style="left:1282.62px;top:922.30px;font-size:29.5px;color:#cdcdcd;letter-spacing:-0.898px">present</span>
<span class="t" style="left:1485.25px;top:922.30px;font-size:29.5px;color:#b6b6b6;letter-spacing:0.023px">deputy</span>
<span class="t" style="left:1694.75px;top:922.30px;font-size:29.5px;color:#b6b6b6;letter-spacing:-0.427px">absent</span>
<span class="t" style="left:1860.12px;top:922.30px;font-size:29.5px;color:#b6b6b6;letter-spacing:-0.240px">not required</span>
<span class="t" style="left:824.95px;top:1061.70px;font-size:28.5px;color:#bababa;letter-spacing:-1.632px;word-spacing:-2px">Role 1</span>
<span class="t sb" style="left:1282.62px;top:1062.30px;font-size:29.5px;color:#cdcdcd;letter-spacing:-0.898px">present</span>
<span class="t" style="left:1485.25px;top:1062.30px;font-size:29.5px;color:#b6b6b6;letter-spacing:0.023px">deputy</span>
<span class="t" style="left:1694.75px;top:1062.30px;font-size:29.5px;color:#b6b6b6;letter-spacing:-0.427px">absent</span>
<span class="t" style="left:1860.12px;top:1062.30px;font-size:29.5px;color:#b6b6b6;letter-spacing:-0.240px">not required</span>
<span class="t" style="left:824.95px;top:1201.70px;font-size:28.5px;color:#bababa;letter-spacing:-1.632px;word-spacing:-2px">Role 1</span>
<span class="t" style="left:1281.12px;top:1202.30px;font-size:29.5px;color:#b6b6b6;letter-spacing:-0.398px">present</span>
<span class="t sb" style="left:1487.75px;top:1202.30px;font-size:29.5px;color:#d2d2d2;letter-spacing:-0.417px">deputy</span>
<span class="t" style="left:1694.75px;top:1202.30px;font-size:29.5px;color:#b6b6b6;letter-spacing:-0.427px">absent</span>
<span class="t" style="left:1860.12px;top:1202.30px;font-size:29.5px;color:#b6b6b6;letter-spacing:-0.240px">not required</span>
<span class="t" style="left:824.95px;top:1341.70px;font-size:28.5px;color:#bababa;letter-spacing:-1.632px;word-spacing:-2px">Role 1</span>
<span class="t" style="left:1281.12px;top:1342.30px;font-size:29.5px;color:#b6b6b6;letter-spacing:-0.398px">present</span>
<span class="t" style="left:1485.25px;top:1342.30px;font-size:29.5px;color:#b6b6b6;letter-spacing:0.023px">deputy</span>
<span class="t" style="left:1694.75px;top:1342.30px;font-size:29.5px;color:#b6b6b6;letter-spacing:-0.427px">absent</span>
<span class="t sb" style="left:1874.12px;top:1342.30px;font-size:29.5px;color:#c8c8c8;letter-spacing:-0.877px">n. required</span>
<span class="t" style="left:1765.12px;top:1859.80px;font-size:29.5px;color:#b6b6b6;letter-spacing:-0.907px">+ new Role</span>
<span class="t b" style="left:2138.62px;top:349.55px;font-size:35.5px;color:#fff;letter-spacing:-0.157px">Attendance Station 3</span>
<span class="t" style="left:2138.03px;top:392.80px;font-size:29.5px;color:#b6b6b6;letter-spacing:-0.924px;word-spacing:-2px">Mon 19.12.06</span>
<span class="t sb" style="left:2483.12px;top:485.80px;font-size:29.5px;color:#cdcdcd;letter-spacing:-1.064px">present</span>
<span class="t" style="left:2718.25px;top:485.80px;font-size:29.5px;color:#565656;letter-spacing:0.023px">deputy</span>
<span class="t sb" style="left:2964.75px;top:485.80px;font-size:29.5px;color:#c6c6c6;letter-spacing:-1.127px">absent</span>
<span class="t" style="left:3205.62px;top:485.80px;font-size:29.5px;color:#565656;letter-spacing:-0.286px">not required</span>
<span class="t" style="left:2135.75px;top:605.80px;font-size:21px;color:#a6a6a6;letter-spacing:2.700px">006</span>
<span class="t b" style="left:2135.75px;top:672.90px;font-size:21px;color:#fff;letter-spacing:2.200px">005</span>
<span class="t" style="left:2135.75px;top:740.00px;font-size:21px;color:#a6a6a6;letter-spacing:2.700px">004</span>
<span class="t" style="left:2135.75px;top:807.10px;font-size:21px;color:#a6a6a6;letter-spacing:2.700px">003</span>
<span class="t" style="left:2135.75px;top:874.20px;font-size:21px;color:#a6a6a6;letter-spacing:2.700px">002</span>
<span class="t" style="left:2135.75px;top:941.30px;font-size:21px;color:#a6a6a6;letter-spacing:2.700px">001</span>
<span class="t" style="left:2228.38px;top:1086.80px;font-size:22px;color:#a6a6a6;letter-spacing:0.374px">11/30/19</span>
<span class="t" style="left:2348.57px;top:1086.80px;font-size:22px;color:#a6a6a6;letter-spacing:-0.071px">12/01/19</span>
<span class="t" style="left:2465.78px;top:1086.80px;font-size:22px;color:#a6a6a6;letter-spacing:0.572px">12/02/19</span>
<span class="t" style="left:2584.97px;top:1086.80px;font-size:22px;color:#a6a6a6;letter-spacing:0.643px">12/03/19</span>
<span class="t b" style="left:2704.18px;top:1086.80px;font-size:22px;color:#fff;letter-spacing:0.715px">12/04/19</span>
<span class="t" style="left:2824.12px;top:1086.80px;font-size:22px;color:#a6a6a6;letter-spacing:0.572px">12/05/19</span>
<span class="t" style="left:2943.07px;top:1086.80px;font-size:22px;color:#a6a6a6;letter-spacing:0.715px">12/06/19</span>
<span class="t" style="left:3062.53px;top:1086.80px;font-size:22px;color:#a6a6a6;letter-spacing:0.715px">12/06/19</span>
<span class="t" style="left:3181.97px;top:1086.80px;font-size:22px;color:#a6a6a6;letter-spacing:0.715px">12/06/19</span>
<span class="t" style="left:3301.43px;top:1086.80px;font-size:22px;color:#a6a6a6;letter-spacing:0.715px">12/06/19</span>
<span class="t" style="left:3420.88px;top:1086.80px;font-size:22px;color:#a6a6a6;letter-spacing:0.715px">12/06/19</span>
<span class="t b" style="left:2138.62px;top:1196.80px;font-size:35.5px;color:#fff;letter-spacing:-0.157px">Attendance Station 3</span>
<span class="t" style="left:2138.00px;top:1239.80px;font-size:29.5px;color:#b6b6b6;letter-spacing:0.069px">last month</span>
<span class="t sb" style="left:2482.62px;top:1313.80px;font-size:29.5px;color:#cdcdcd;letter-spacing:-0.939px">present</span>
<span class="t" style="left:2718.25px;top:1313.80px;font-size:29.5px;color:#565656;letter-spacing:0.023px">deputy</span>
<span class="t" style="left:2965.25px;top:1313.80px;font-size:29.5px;color:#565656;letter-spacing:-0.627px">absent</span>
<span class="t" style="left:2135.75px;top:1433.00px;font-size:21px;color:#a6a6a6;letter-spacing:2.700px">006</span>
<span class="t" style="left:2135.75px;top:1500.15px;font-size:21px;color:#a6a6a6;letter-spacing:2.700px">005</span>
<span class="t" style="left:2135.75px;top:1567.30px;font-size:21px;color:#a6a6a6;letter-spacing:2.700px">004</span>
<span class="t" style="left:2135.75px;top:1634.45px;font-size:21px;color:#a6a6a6;letter-spacing:2.700px">003</span>
<span class="t" style="left:2135.75px;top:1701.60px;font-size:21px;color:#a6a6a6;letter-spacing:2.700px">002</span>
<span class="t" style="left:2135.75px;top:1768.75px;font-size:21px;color:#a6a6a6;letter-spacing:2.700px">001</span>
<span class="t" style="left:2224.26px;top:1915.10px;font-size:23px;color:#a6a6a6;letter-spacing:0.900px">01</span>
<span class="t" style="left:2265.39px;top:1915.10px;font-size:23px;color:#a6a6a6;letter-spacing:0.900px">02</span>
<span class="t" style="left:2306.40px;top:1915.10px;font-size:23px;color:#a6a6a6;letter-spacing:0.900px">03</span>
<span class="t" style="left:2347.28px;top:1915.10px;font-size:23px;color:#a6a6a6;letter-spacing:0.900px">04</span>
<span class="t" style="left:2388.47px;top:1915.10px;font-size:23px;color:#a6a6a6;letter-spacing:0.900px">05</span>
<span class="t" style="left:2429.61px;top:1915.10px;font-size:23px;color:#a6a6a6;letter-spacing:0.900px">06</span>
<span class="t" style="left:2470.74px;top:1915.10px;font-size:23px;color:#a6a6a6;letter-spacing:0.900px">07</span>
<span class="t" style="left:2511.68px;top:1915.10px;font-size:23px;color:#a6a6a6;letter-spacing:0.900px">08</span>
<span class="t" style="left:2552.82px;top:1915.10px;font-size:23px;color:#a6a6a6;letter-spacing:0.900px">09</span>
<span class="t" style="left:2593.39px;top:1915.10px;font-size:23px;color:#a6a6a6;letter-spacing:0.900px">10</span>
<span class="t" style="left:2635.33px;top:1915.10px;font-size:23px;color:#a6a6a6;letter-spacing:0.900px">11</span>
<span class="t" style="left:2675.65px;top:1915.10px;font-size:23px;color:#a6a6a6;letter-spacing:0.900px">12</span>
<span class="t" style="left:2716.66px;top:1915.10px;font-size:23px;color:#a6a6a6;letter-spacing:0.900px">13</span>
<span class="t" style="left:2757.54px;top:1915.10px;font-size:23px;color:#a6a6a6;letter-spacing:0.900px">14</span>
<span class="t" style="left:2798.74px;top:1915.10px;font-size:23px;color:#a6a6a6;letter-spacing:0.900px">15</span>
<span class="t" style="left:2839.87px;top:1915.10px;font-size:23px;color:#a6a6a6;letter-spacing:0.900px">16</span>
<span class="t" style="left:2881.00px;top:1915.10px;font-size:23px;color:#a6a6a6;letter-spacing:0.900px">17</span>
<span class="t" style="left:2921.95px;top:1915.10px;font-size:23px;color:#a6a6a6;letter-spacing:0.900px">18</span>
<span class="t" style="left:2963.08px;top:1915.10px;font-size:23px;color:#a6a6a6;letter-spacing:0.900px">19</span>
<span class="t" style="left:3004.40px;top:1915.10px;font-size:23px;color:#a6a6a6;letter-spacing:0.900px">20</span>
<span class="t" style="left:3045.53px;top:1915.10px;font-size:23px;color:#a6a6a6;letter-spacing:0.900px">21</span>
<span class="t" style="left:3086.66px;top:1915.10px;font-size:23px;color:#a6a6a6;letter-spacing:0.900px">22</span>
<span class="t" style="left:3127.67px;top:1915.10px;font-size:23px;color:#a6a6a6;letter-spacing:0.900px">23</span>
<span class="t" style="left:3168.55px;top:1915.10px;font-size:23px;color:#a6a6a6;letter-spacing:0.900px">24</span>
<span class="t" style="left:3209.75px;top:1915.10px;font-size:23px;color:#a6a6a6;letter-spacing:0.900px">25</span>
<span class="t" style="left:3250.88px;top:1915.10px;font-size:23px;color:#a6a6a6;letter-spacing:0.900px">26</span>
<span class="t" style="left:3292.01px;top:1915.10px;font-size:23px;color:#a6a6a6;letter-spacing:0.900px">27</span>
<span class="t" style="left:3332.96px;top:1915.10px;font-size:23px;color:#a6a6a6;letter-spacing:0.900px">28</span>
<span class="t" style="left:3374.09px;top:1915.10px;font-size:23px;color:#a6a6a6;letter-spacing:0.900px">29</span>
<span class="t" style="left:3415.22px;top:1915.10px;font-size:23px;color:#a6a6a6;letter-spacing:0.900px">30</span>
<span class="t" style="left:3456.36px;top:1915.10px;font-size:23px;color:#a6a6a6;letter-spacing:0.900px">31</span>
<!-- popups -->
<div class="abs" style="left:54px;top:279px;width:565.5px;height:585px;background:#212121"><div class="abs" style="left:0;top:0;width:100%;height:118px;background:#2a2a2a"></div><div class="abs" style="left:0;top:211px;width:100%;height:1px;background:#272727"></div><div class="abs" style="left:0;top:305px;width:100%;height:1px;background:#272727"></div><div class="abs" style="left:0;top:398px;width:100%;height:1px;background:#272727"></div><div class="abs" style="left:0;top:492px;width:100%;height:93px;background:#d5d5d5"></div></div>
<div class="abs" style="left:3172.5px;top:1279px;width:359px;height:377.5px;background:#d6d6d6;box-shadow:0 4px 50px rgba(0,0,0,.42)"></div>
<svg class="layer" viewBox="0 0 3572 2012"><path d="M501.5,279.5 L515.5,262.5 L529.5,279.5 Z" fill="#2a2a2a"/>
<path d="M3455,1279.5 L3468,1260.5 L3481,1279.5 Z" fill="#d6d6d6"/>
<g transform="translate(0,0)"><rect x="559" y="432" width="26.2" height="22.2" fill="none" stroke="#fff" stroke-width="2.2"/><rect x="558" y="431" width="28.2" height="4.6" fill="#fff"/><rect x="563.8" y="428.8" width="4" height="3" fill="#fff"/><rect x="576.8" y="428.8" width="4" height="3" fill="#fff"/></g>
<g transform="translate(0,94)"><rect x="559" y="432" width="26.2" height="22.2" fill="none" stroke="#fff" stroke-width="2.2"/><rect x="558" y="431" width="28.2" height="4.6" fill="#fff"/><rect x="563.8" y="428.8" width="4" height="3" fill="#fff"/><rect x="576.8" y="428.8" width="4" height="3" fill="#fff"/></g>
<path d="M557.7,622.7 L570.5,635.8 L583.3,622.7" fill="none" stroke="#cfcfcf" stroke-width="2.6"/>
<path d="M557.7,716.0 L570.5,729.1 L583.3,716.0" fill="none" stroke="#cfcfcf" stroke-width="2.6"/>
<path d="M3456.5,1320.0 V1349.0" stroke="#222" stroke-width="3"/><path d="M3468.0,1320.0 V1349.0" stroke="#222" stroke-width="3"/><path d="M3479.5,1320.0 V1349.0" stroke="#222" stroke-width="3"/><circle cx="3456.5" cy="1331.2" r="3.3" fill="#d6d6d6" stroke="#222" stroke-width="2.4"/><circle cx="3468.0" cy="1337.8" r="3.3" fill="#d6d6d6" stroke="#222" stroke-width="2.4"/><circle cx="3479.5" cy="1334.0" r="3.3" fill="#d6d6d6" stroke="#222" stroke-width="2.4"/></svg>
<span class="t b" style="left:87.50px;top:319.80px;font-size:30px;color:#fff;letter-spacing:-1.750px">Absolut</span>
<span class="t" style="left:278.88px;top:319.80px;font-size:30px;color:#b6b6b6;letter-spacing:-0.833px">Relativ</span>
<span class="t" style="left:452.62px;top:319.80px;font-size:30px;color:#b6b6b6;letter-spacing:-0.751px">Datepicker</span>
<span class="t" style="left:87.25px;top:414.30px;font-size:21.5px;color:#a2a2a2;letter-spacing:0.312px">Start</span>
<span class="t b" style="left:86.50px;top:442.30px;font-size:28px;color:#fff;letter-spacing:0.590px">12/07/19 - 01:00 am</span>
<span class="t" style="left:87.25px;top:508.30px;font-size:21.5px;color:#a2a2a2;letter-spacing:0.312px">Start</span>
<span class="t b" style="left:86.50px;top:535.55px;font-size:28px;color:#fff;letter-spacing:1.006px">12/07/19 - 09:00 am</span>
<span class="t" style="left:87.38px;top:615.30px;font-size:29.5px;color:#b6b6b6;letter-spacing:-0.637px">Quick Choice</span>
<span class="t" style="left:86.83px;top:709.30px;font-size:29.5px;color:#b6b6b6;letter-spacing:0.124px">Shift</span>
<span class="t" style="left:266.50px;top:803.30px;font-size:29.5px;color:#343434;letter-spacing:-0.262px">Apply to all</span>
<span class="t b" style="left:3212.35px;top:1319.55px;font-size:29px;color:#242424;letter-spacing:-0.983px">Analysis setting</span>
<span class="t" style="left:3211.30px;top:1378.60px;font-size:29.5px;color:#353535;letter-spacing:-0.387px">Add Incident</span>
<span class="t" style="left:3211.90px;top:1445.40px;font-size:29.5px;color:#353535;letter-spacing:-1.094px">Add Task</span>
<span class="t" style="left:3211.90px;top:1512.30px;font-size:29.5px;color:#353535;letter-spacing:-0.053px">Action Button</span>
<span class="t" style="left:3211.90px;top:1579.20px;font-size:29.5px;color:#353535;letter-spacing:-0.053px">Action Button</span>
<svg class="layer" viewBox="0 0 3572 2012"><g transform="translate(513.7,224.0)" style="filter:drop-shadow(0 2px 2.5px rgba(0,0,0,.45))"><path d="M-2.6,1.8 Q-2.6,0 0,0 Q2.6,0 2.6,1.8 L2.6,10.2 Q5,8.6 7.2,10 L7.6,11.8 Q10,10.4 12.2,12 L12.6,13.8 Q15,12.6 17,14.8 L17,24 Q17,28 14.6,31 L14.6,36 L-0.6,36 L-0.6,32.4 Q-4,27.5 -8.6,19.8 Q-9.6,17.6 -8,16.9 Q-6,16.2 -2.6,20.2 Z" fill="#fff" stroke="#000" stroke-width="1.6" stroke-linejoin="round"/><path d="M2.6,10.5 V17 M7.5,12 V17.5 M12.5,14 V18" stroke="#000" stroke-width="1.4" fill="none"/></g><g transform="translate(2752.0,681.3)" style="filter:drop-shadow(0 2px 2.5px rgba(0,0,0,.45))"><path d="M-2.6,1.8 Q-2.6,0 0,0 Q2.6,0 2.6,1.8 L2.6,10.2 Q5,8.6 7.2,10 L7.6,11.8 Q10,10.4 12.2,12 L12.6,13.8 Q15,12.6 17,14.8 L17,24 Q17,28 14.6,31 L14.6,36 L-0.6,36 L-0.6,32.4 Q-4,27.5 -8.6,19.8 Q-9.6,17.6 -8,16.9 Q-6,16.2 -2.6,20.2 Z" fill="#fff" stroke="#000" stroke-width="1.6" stroke-linejoin="round"/><path d="M2.6,10.5 V17 M7.5,12 V17.5 M12.5,14 V18" stroke="#000" stroke-width="1.4" fill="none"/></g><g transform="translate(3385.5,1341.0)" style="filter:drop-shadow(0 2px 2.5px rgba(0,0,0,.45))"><path d="M-2.6,1.8 Q-2.6,0 0,0 Q2.6,0 2.6,1.8 L2.6,10.2 Q5,8.6 7.2,10 L7.6,11.8 Q10,10.4 12.2,12 L12.6,13.8 Q15,12.6 17,14.8 L17,24 Q17,28 14.6,31 L14.6,36 L-0.6,36 L-0.6,32.4 Q-4,27.5 -8.6,19.8 Q-9.6,17.6 -8,16.9 Q-6,16.2 -2.6,20.2 Z" fill="#fff" stroke="#000" stroke-width="1.6" stroke-linejoin="round"/><path d="M2.6,10.5 V17 M7.5,12 V17.5 M12.5,14 V18" stroke="#000" stroke-width="1.4" fill="none"/></g></svg>
</body></html>
